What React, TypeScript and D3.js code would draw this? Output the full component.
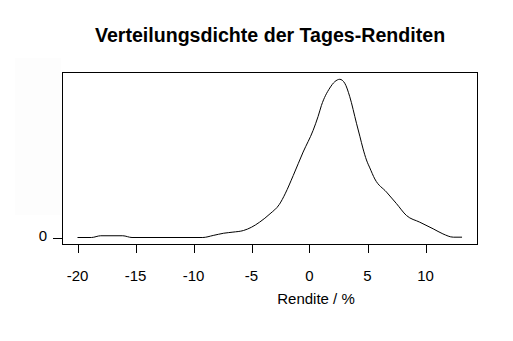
import React from "react";
import * as d3 from "d3";

const titleText = "Verteilungsdichte der Tages-Renditen";
const xLabel = "Rendite / %";
const xTicks = [-20, -15, -10, -5, 0, 5, 10];
const yTicks = [0];
const yTickLabels = ["0"];

const rendite = [
  -20, -18.8, -18.0, -16.1, -15.3, -9.2, -8.3, -7.4, -6.6, -5.7, -5.0, -4.3, -3.4, -2.6,
  -2.1, -1.4, -0.55, 0.31, 0.74, 1.03, 1.75, 2.18, 2.61, 3.04, 3.47, 4.05, 4.34, 4.62,
  4.91, 5.2, 5.63, 6.64, 7.5, 8.36, 9.5, 10.66, 11.5, 12.4, 13.15,
];
const dichte = [
  0, 0, 0.0011, 0.0011, 0, 0, 0.0013, 0.0027, 0.0034, 0.0044, 0.0065, 0.0097, 0.015, 0.0209,
  0.0276, 0.0392, 0.054, 0.0677, 0.0765, 0.0835, 0.0945, 0.0985, 0.1, 0.0975, 0.089, 0.0722,
  0.064, 0.056, 0.049, 0.044, 0.037, 0.0287, 0.0214, 0.0139, 0.0097, 0.0055, 0.0023, 0.0002,
  0.0002,
];

export default function App() {
  const W = 513;
  const H = 341;
  const box = { l: 62, r: 477, t: 72, b: 244 };
  const x = d3.scaleLinear().domain([-20, 10]).range([77.5, 425.5]);
  const y = d3.scaleLinear().domain([0, 0.1]).range([237.5, 79.3]);
  const pts = rendite.map((r, i) => [r, dichte[i]] as [number, number]);
  const line = d3
    .line<[number, number]>()
    .x((d) => x(d[0]))
    .y((d) => y(d[1]))
    .curve(d3.curveMonotoneX);
  const font = "Arial, 'Liberation Sans', sans-serif";
  return (
    <svg
      width={W}
      height={H}
      style={{ position: "absolute", left: 0, top: 0, background: "#fff" }}
      fontFamily={font}
    >
      <rect x={0} y={0} width={W} height={H} fill="#fff" />
      <rect x={15} y={58} width={46} height={157} fill="#fdfdfd" />
      <text x={270} y={42} textAnchor="middle" fontWeight="bold" fontSize={19.6}>
        {titleText}
      </text>
      <rect
        x={box.l + 0.5}
        y={box.t + 0.5}
        width={box.r - box.l}
        height={box.b - box.t}
        fill="none"
        stroke="#000"
        strokeWidth={1}
        shapeRendering="crispEdges"
      />
      <path d={line(pts) || ""} fill="none" stroke="#000" strokeWidth={1} />
      {xTicks.map((t) => (
        <g key={t}>
          <line
            x1={Math.round(x(t)) + 0.5}
            x2={Math.round(x(t)) + 0.5}
            y1={box.b + 1}
            y2={253}
            stroke="#000"
            shapeRendering="crispEdges"
          />
          <text x={x(t)} y={281} textAnchor="middle" fontSize={15}>
            {t}
          </text>
        </g>
      ))}
      {yTicks.map((t, i) => (
        <g key={t}>
          <line
            x1={53}
            x2={box.l}
            y1={Math.round(y(t)) + 0.5}
            y2={Math.round(y(t)) + 0.5}
            stroke="#000"
            shapeRendering="crispEdges"
          />
          <text x={47} y={y(t) + 3} textAnchor="end" fontSize={15}>
            {yTickLabels[i]}
          </text>
        </g>
      ))}
      <text x={316} y={304} textAnchor="middle" fontSize={15}>
        {xLabel}
      </text>
    </svg>
  );
}
